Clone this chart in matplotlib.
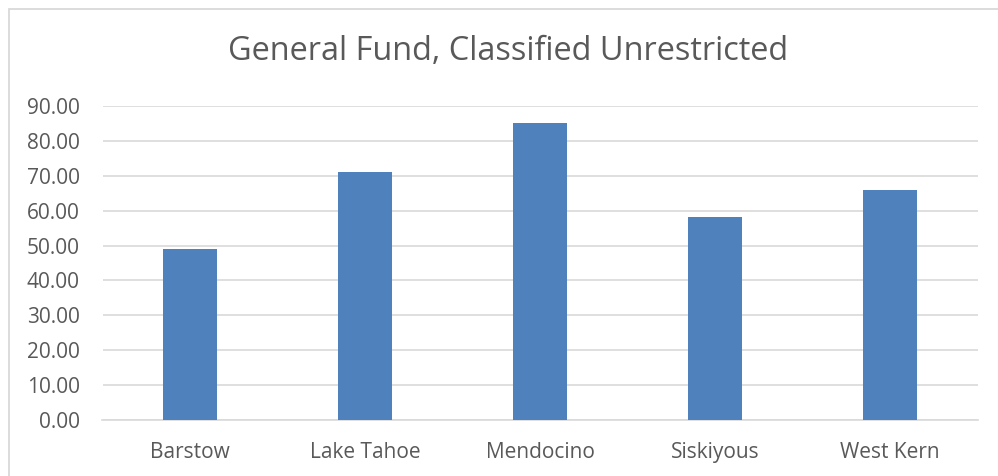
import matplotlib
matplotlib.use("Agg")
import matplotlib.pyplot as plt
from matplotlib.patches import Rectangle
from matplotlib.ticker import FormatStrFormatter

categories = ["Barstow", "Lake Tahoe", "Mendocino", "Siskiyous", "West Kern"]
values = [48.9, 71.1, 85.0, 58.1, 66.0]
title = "General Fund, Classified Unrestricted"
yticks = [0, 10, 20, 30, 40, 50, 60, 70, 80, 90]

W, H = 998, 476
fig = plt.figure(figsize=(W / 100, H / 100), dpi=100)
plt.rcParams['font.family'] = ['Open Sans', 'DejaVu Sans']

# chart area border (light gray), extends beyond right/bottom
fig.patches.append(Rectangle((8.5 / W, -0.05), 1.2, 1 - 8.5 / H + 0.05,
                             transform=fig.transFigure, fill=False,
                             edgecolor="#D9D9D9", linewidth=1.3))

ax = fig.add_axes([102.5 / W, 1 - 420 / H, 875 / W, (420 - 106) / H])
x = range(len(categories))
ax.bar(x, values, width=0.314, color="#4F81BD", zorder=3)
ax.set_xlim(-0.5, len(categories) - 0.5)
ax.set_ylim(0, 90)
ax.set_yticks(yticks)
ax.yaxis.set_major_formatter(FormatStrFormatter("%.2f"))
ax.set_xticks(list(x))
ax.set_xticklabels(categories)
ax.grid(axis="y", color="#D9D9D9", linewidth=1.2, zorder=0)
for s in ["top", "right", "left"]:
    ax.spines[s].set_visible(False)
ax.spines["bottom"].set_color("#D9D9D9")
ax.spines["bottom"].set_linewidth(1.2)
ax.tick_params(axis="both", length=0, labelsize=15, colors="#595959")
ax.tick_params(axis="y", pad=16.5)
ax.tick_params(axis="x", pad=16)

fig.text(508 / W, 1 - 52 / H, title, ha="center", va="center",
         fontsize=23.4, color="#595959")

fig.savefig("out.png", dpi=100)
